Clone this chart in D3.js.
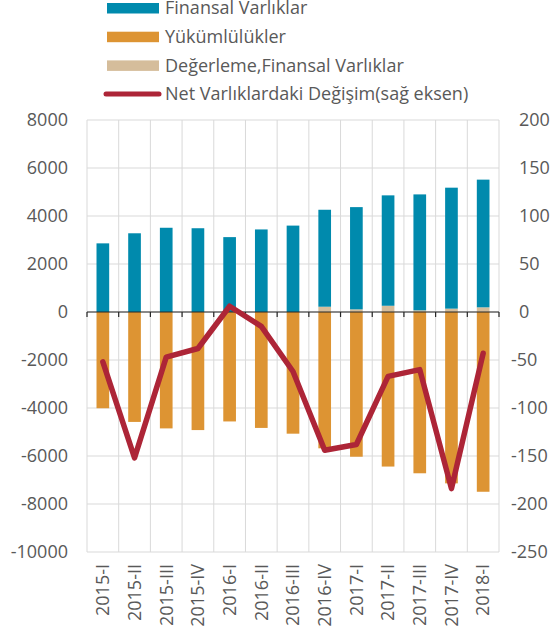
<!DOCTYPE html>
<html lang="tr">
<head>
<meta charset="utf-8">
<title>Net Varlıklar</title>
<script src="https://cdn.jsdelivr.net/npm/d3@7"></script>
<style>
  body { margin: 0; background: #fff; }
  text { font-family: "Open Sans", "Liberation Sans", sans-serif; }
</style>
</head>
<body>
<script>

var width = 560;
var height = 636;

// data
var quarters = ["2015-I", "2015-II", "2015-III", "2015-IV", "2016-I", "2016-II", "2016-III",
                "2016-IV", "2017-I", "2017-II", "2017-III", "2017-IV", "2018-I"];
var finansalVarliklar = [2860, 3280, 3510, 3490, 3120, 3440, 3600, 4040, 4260, 4600, 4830, 5040, 5320];
var degerleme = [0, 0, 0, 0, 0, 0, 0, 220, 110, 260, 70, 140, 195];
var yukumlulukler = [-4010, -4580, -4850, -4920, -4560, -4830, -5070, -5680, -6030, -6440, -6720, -7140, -7490];
var netDegisim = [-52, -152, -47, -38, 6, -15, -62, -144, -138, -67, -60, -184, -43];
var leftTicks = [8000, 6000, 4000, 2000, 0, -2000, -4000, -6000, -8000, -10000];
var rightTicks = [200, 150, 100, 50, 0, -50, -100, -150, -200, -250];

var margin = {left: 87, right: 61, top: 120, bottom: 84};
var fontSize = 18;

var svg = d3.select("body").append("svg")
            .attr("width", width)
            .attr("height", height);

var x = d3.scaleBand()
          .domain(quarters)
          .range([margin.left, width - margin.right])
          .paddingInner(0.6)
          .paddingOuter(0.3);

var y = d3.scaleLinear()
          .domain([-10000, 8000])
          .range([height - margin.bottom, margin.top]);

var y2 = d3.scaleLinear()
           .domain([-250, 200])
           .range([height - margin.bottom, margin.top]);

var step = x.step();
var x0 = x.range()[0];
var x1 = x.range()[1];

// grid
svg.append("g").selectAll("line")
   .data(leftTicks)
   .enter().append("line")
   .attr("x1", x0).attr("x2", x1)
   .attr("y1", function(d) { return y(d); })
   .attr("y2", function(d) { return y(d); })
   .attr("stroke", "#d9d9d9")
   .attr("stroke-width", 1);

svg.append("g").selectAll("line")
   .data(d3.range(quarters.length + 1))
   .enter().append("line")
   .attr("x1", function(i) { return x0 + i * step; })
   .attr("x2", function(i) { return x0 + i * step; })
   .attr("y1", y(8000)).attr("y2", y(-10000))
   .attr("stroke", "#d9d9d9")
   .attr("stroke-width", 1);

// bars
var bars = svg.append("g");

bars.selectAll(".deg")
    .data(quarters)
    .enter().append("rect")
    .attr("x", function(d) { return x(d); })
    .attr("width", x.bandwidth())
    .attr("y", function(d, i) { return y(degerleme[i]); })
    .attr("height", function(d, i) { return y(0) - y(degerleme[i]); })
    .attr("fill", "#d5bd9b");

bars.selectAll(".fin")
    .data(quarters)
    .enter().append("rect")
    .attr("x", function(d) { return x(d); })
    .attr("width", x.bandwidth())
    .attr("y", function(d, i) { return y(degerleme[i] + finansalVarliklar[i]); })
    .attr("height", function(d, i) { return y(degerleme[i]) - y(degerleme[i] + finansalVarliklar[i]); })
    .attr("fill", "#008aad");

bars.selectAll(".yuk")
    .data(quarters)
    .enter().append("rect")
    .attr("x", function(d) { return x(d); })
    .attr("width", x.bandwidth())
    .attr("y", y(0))
    .attr("height", function(d, i) { return y(yukumlulukler[i]) - y(0); })
    .attr("fill", "#dd9433");

// zero axis with ticks
svg.append("line")
   .attr("x1", x0).attr("x2", x1)
   .attr("y1", y(0)).attr("y2", y(0))
   .attr("stroke", "#262626")
   .attr("stroke-width", 1.2);

svg.append("g").selectAll("line")
   .data(d3.range(quarters.length + 1))
   .enter().append("line")
   .attr("x1", function(i) { return x0 + i * step; })
   .attr("x2", function(i) { return x0 + i * step; })
   .attr("y1", y(0)).attr("y2", y(0) + 5)
   .attr("stroke", "#262626")
   .attr("stroke-width", 1.2);

// line on right axis
var line = d3.line()
             .x(function(d, i) { return x(quarters[i]) + x.bandwidth() / 2; })
             .y(function(d) { return y2(d); });

svg.append("path")
   .datum(netDegisim)
   .attr("d", line)
   .attr("fill", "none")
   .attr("stroke", "#ad2537")
   .attr("stroke-width", 5.5)
   .attr("stroke-linejoin", "round")
   .attr("stroke-linecap", "round");

// axis labels
svg.append("g").selectAll("text")
   .data(leftTicks)
   .enter().append("text")
   .attr("x", 68)
   .attr("y", function(d) { return y(d); })
   .attr("dy", "0.35em")
   .attr("text-anchor", "end")
   .attr("font-size", fontSize)
   .attr("fill", "#595959")
   .text(function(d) { return d; });

svg.append("g").selectAll("text")
   .data(rightTicks)
   .enter().append("text")
   .attr("x", function(d) { return d < 0 ? 511 : 519; })
   .attr("y", function(d) { return y2(d); })
   .attr("dy", "0.35em")
   .attr("font-size", fontSize)
   .attr("fill", "#595959")
   .text(function(d) { return d; });

svg.append("g").selectAll("text")
   .data(quarters)
   .enter().append("text")
   .attr("transform", function(d) {
     return "translate(" + (x(d) + x.bandwidth() / 2) + "," + 564 + ") rotate(-90)";
   })
   .attr("dy", "0.35em")
   .attr("text-anchor", "end")
   .attr("font-size", fontSize)
   .attr("fill", "#595959")
   .text(function(d) { return d; });

// legend
var legend = [
  {name: "Finansal Varlıklar", color: "#008aad", type: "bar"},
  {name: "Yükümlülükler", color: "#dd9433", type: "bar"},
  {name: "Değerleme,Finansal Varlıklar", color: "#d5bd9b", type: "bar"},
  {name: "Net Varlıklardaki Değişim(sağ eksen)", color: "#ad2537", type: "line"}
];

var lg = svg.append("g").selectAll("g")
            .data(legend)
            .enter().append("g")
            .attr("transform", function(d, i) { return "translate(0," + (8 + i * 28.7) + ")"; });

lg.filter(function(d) { return d.type == "bar"; })
  .append("rect")
  .attr("x", 107).attr("y", -5)
  .attr("width", 52).attr("height", 10.5)
  .attr("fill", function(d) { return d.color; });

lg.filter(function(d) { return d.type == "line"; })
  .append("line")
  .attr("x1", 106).attr("x2", 159)
  .attr("y1", 0).attr("y2", 0)
  .attr("stroke", function(d) { return d.color; })
  .attr("stroke-width", 5)
  .attr("stroke-linecap", "round");

lg.append("text")
  .attr("x", 165)
  .attr("y", 0)
  .attr("dy", "0.35em")
  .attr("font-size", fontSize)
  .attr("fill", "#595959")
  .text(function(d) { return d.name; });

</script>
</body>
</html>
